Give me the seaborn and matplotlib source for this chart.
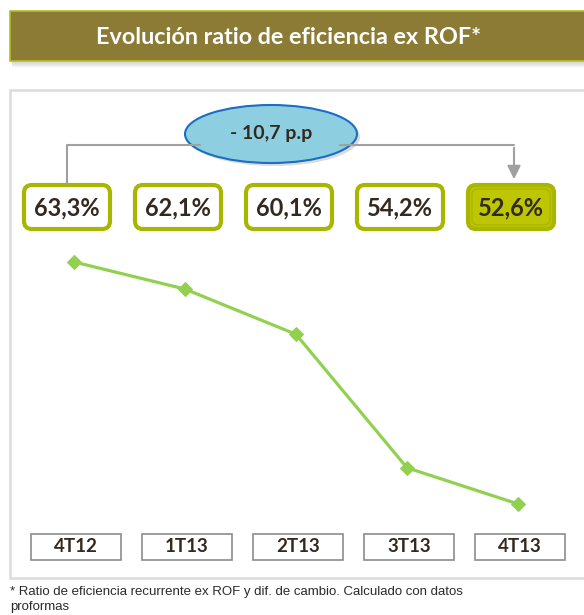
import numpy as np
import pandas as pd
import seaborn as sns
import matplotlib.pyplot as plt
from matplotlib.patches import Rectangle, FancyBboxPatch, Ellipse

quarters = ['4T12', '1T13', '2T13', '3T13', '4T13']
ratio = [63.3, 62.1, 60.1, 54.2, 52.6]
value_labels = ['63,3%', '62,1%', '60,1%', '54,2%', '52,6%']
change_label = '- 10,7 p.p'
title = 'Evolución ratio de eficiencia ex ROF*'
footnote = ('* Ratio de eficiencia recurrente ex ROF y dif. de cambio. Calculado con datos\n'
            'proformas')

sns.set_theme(style='white')
plt.rcParams['font.family'] = ['Lato', 'DejaVu Sans']

W, H = 584, 615
fig = plt.figure(figsize=(W / 100, H / 100), dpi=100)
fig.patch.set_facecolor('white')

# decoration layer in pixel coordinates (y down)
deco = fig.add_axes([0, 0, 1, 1])
deco.set_xlim(0, W)
deco.set_ylim(H, 0)
deco.axis('off')

# title banner with soft shadow
for k in range(6):
    deco.add_patch(Rectangle((12, 61 + k), W + 20, 1.5, fc='#808080', ec='none', alpha=0.18 - 0.03 * k))
deco.add_patch(Rectangle((10, 11), W + 20, 50, fc='#8C7B34', ec='#B3BE1E', lw=1.2))
deco.text(289, 37, title, color='white', fontsize=16.8, fontweight='bold', ha='center', va='center')

# panel
deco.add_patch(Rectangle((10, 90), W + 20, 488, fc='white', ec='#DCDCDC', lw=1.8))

# line chart
ax = fig.add_axes([18.5 / W, 1 - 520 / H, 555 / W, 280 / H])
ax.patch.set_alpha(0)
df = pd.DataFrame({'pos': np.arange(len(quarters)), 'ratio': ratio})
sns.lineplot(data=df, x='pos', y='ratio', ax=ax, color='#92D050', lw=2.3,
             marker='D', markersize=7.5, markeredgecolor='#92D050')
ax.set_xlim(-0.5, len(quarters) - 0.5)
ax.set_ylim(51.89, 64.27)
ax.axis('off')


def px(i):
    disp = ax.transData.transform((i, ratio[0]))
    return deco.transData.inverted().transform(disp)[0]


# value boxes above the line
for i, lab in enumerate(value_labels):
    cx = px(i) - 7
    last = i == len(value_labels) - 1
    deco.add_patch(FancyBboxPatch((cx - 43, 185), 86, 44,
                                  boxstyle='round,pad=0,rounding_size=8',
                                  fc='#BDC600' if last else 'white',
                                  ec='#A8B600', lw=3))
    if last:
        deco.add_patch(FancyBboxPatch((cx - 39, 189), 78, 36,
                                      boxstyle='round,pad=0,rounding_size=6',
                                      fc='none', ec='#AEB800', lw=1.2))
    deco.text(cx, 208, lab, color='#33291F', fontsize=17, fontweight='bold',
              ha='center', va='center')

# quarter boxes at the bottom
for i, q in enumerate(quarters):
    cx = px(i) + 2
    deco.add_patch(Rectangle((cx - 45, 534), 90, 26, fc='white', ec='#8C8C8C', lw=1.2))
    deco.text(cx, 547, q, color='#33291F', fontsize=13.5, fontweight='bold',
              ha='center', va='center')

# connector with arrow
x_left = px(0) - 7
x_right = px(len(quarters) - 1) - 4
deco.plot([x_left, x_left, 200], [184, 145, 145], color='#A0A0A0', lw=1.5)
deco.annotate('', xy=(x_right, 182), xytext=(x_right, 145),
              arrowprops=dict(arrowstyle='-|>', color='#A0A0A0', lw=1.5, mutation_scale=20))
deco.plot([340, x_right], [145, 145], color='#A0A0A0', lw=1.5)

# change ellipse
deco.add_patch(Ellipse((274, 137), 172, 58, fc='#9A9A9A', ec='none', alpha=0.35))
deco.add_patch(Ellipse((271, 134), 172, 58, fc='#8DCFE0', ec='#1B6EC2', lw=1.5))
deco.text(271, 134, change_label, color='#33291F', fontsize=14, fontweight='bold',
          ha='center', va='center')

# footnote
deco.text(10, 586, footnote, color='#2A2A2A', fontsize=9.5, family='Liberation Sans',
          ha='left', va='top', linespacing=1.35)

fig.savefig('out.png', dpi=100)
